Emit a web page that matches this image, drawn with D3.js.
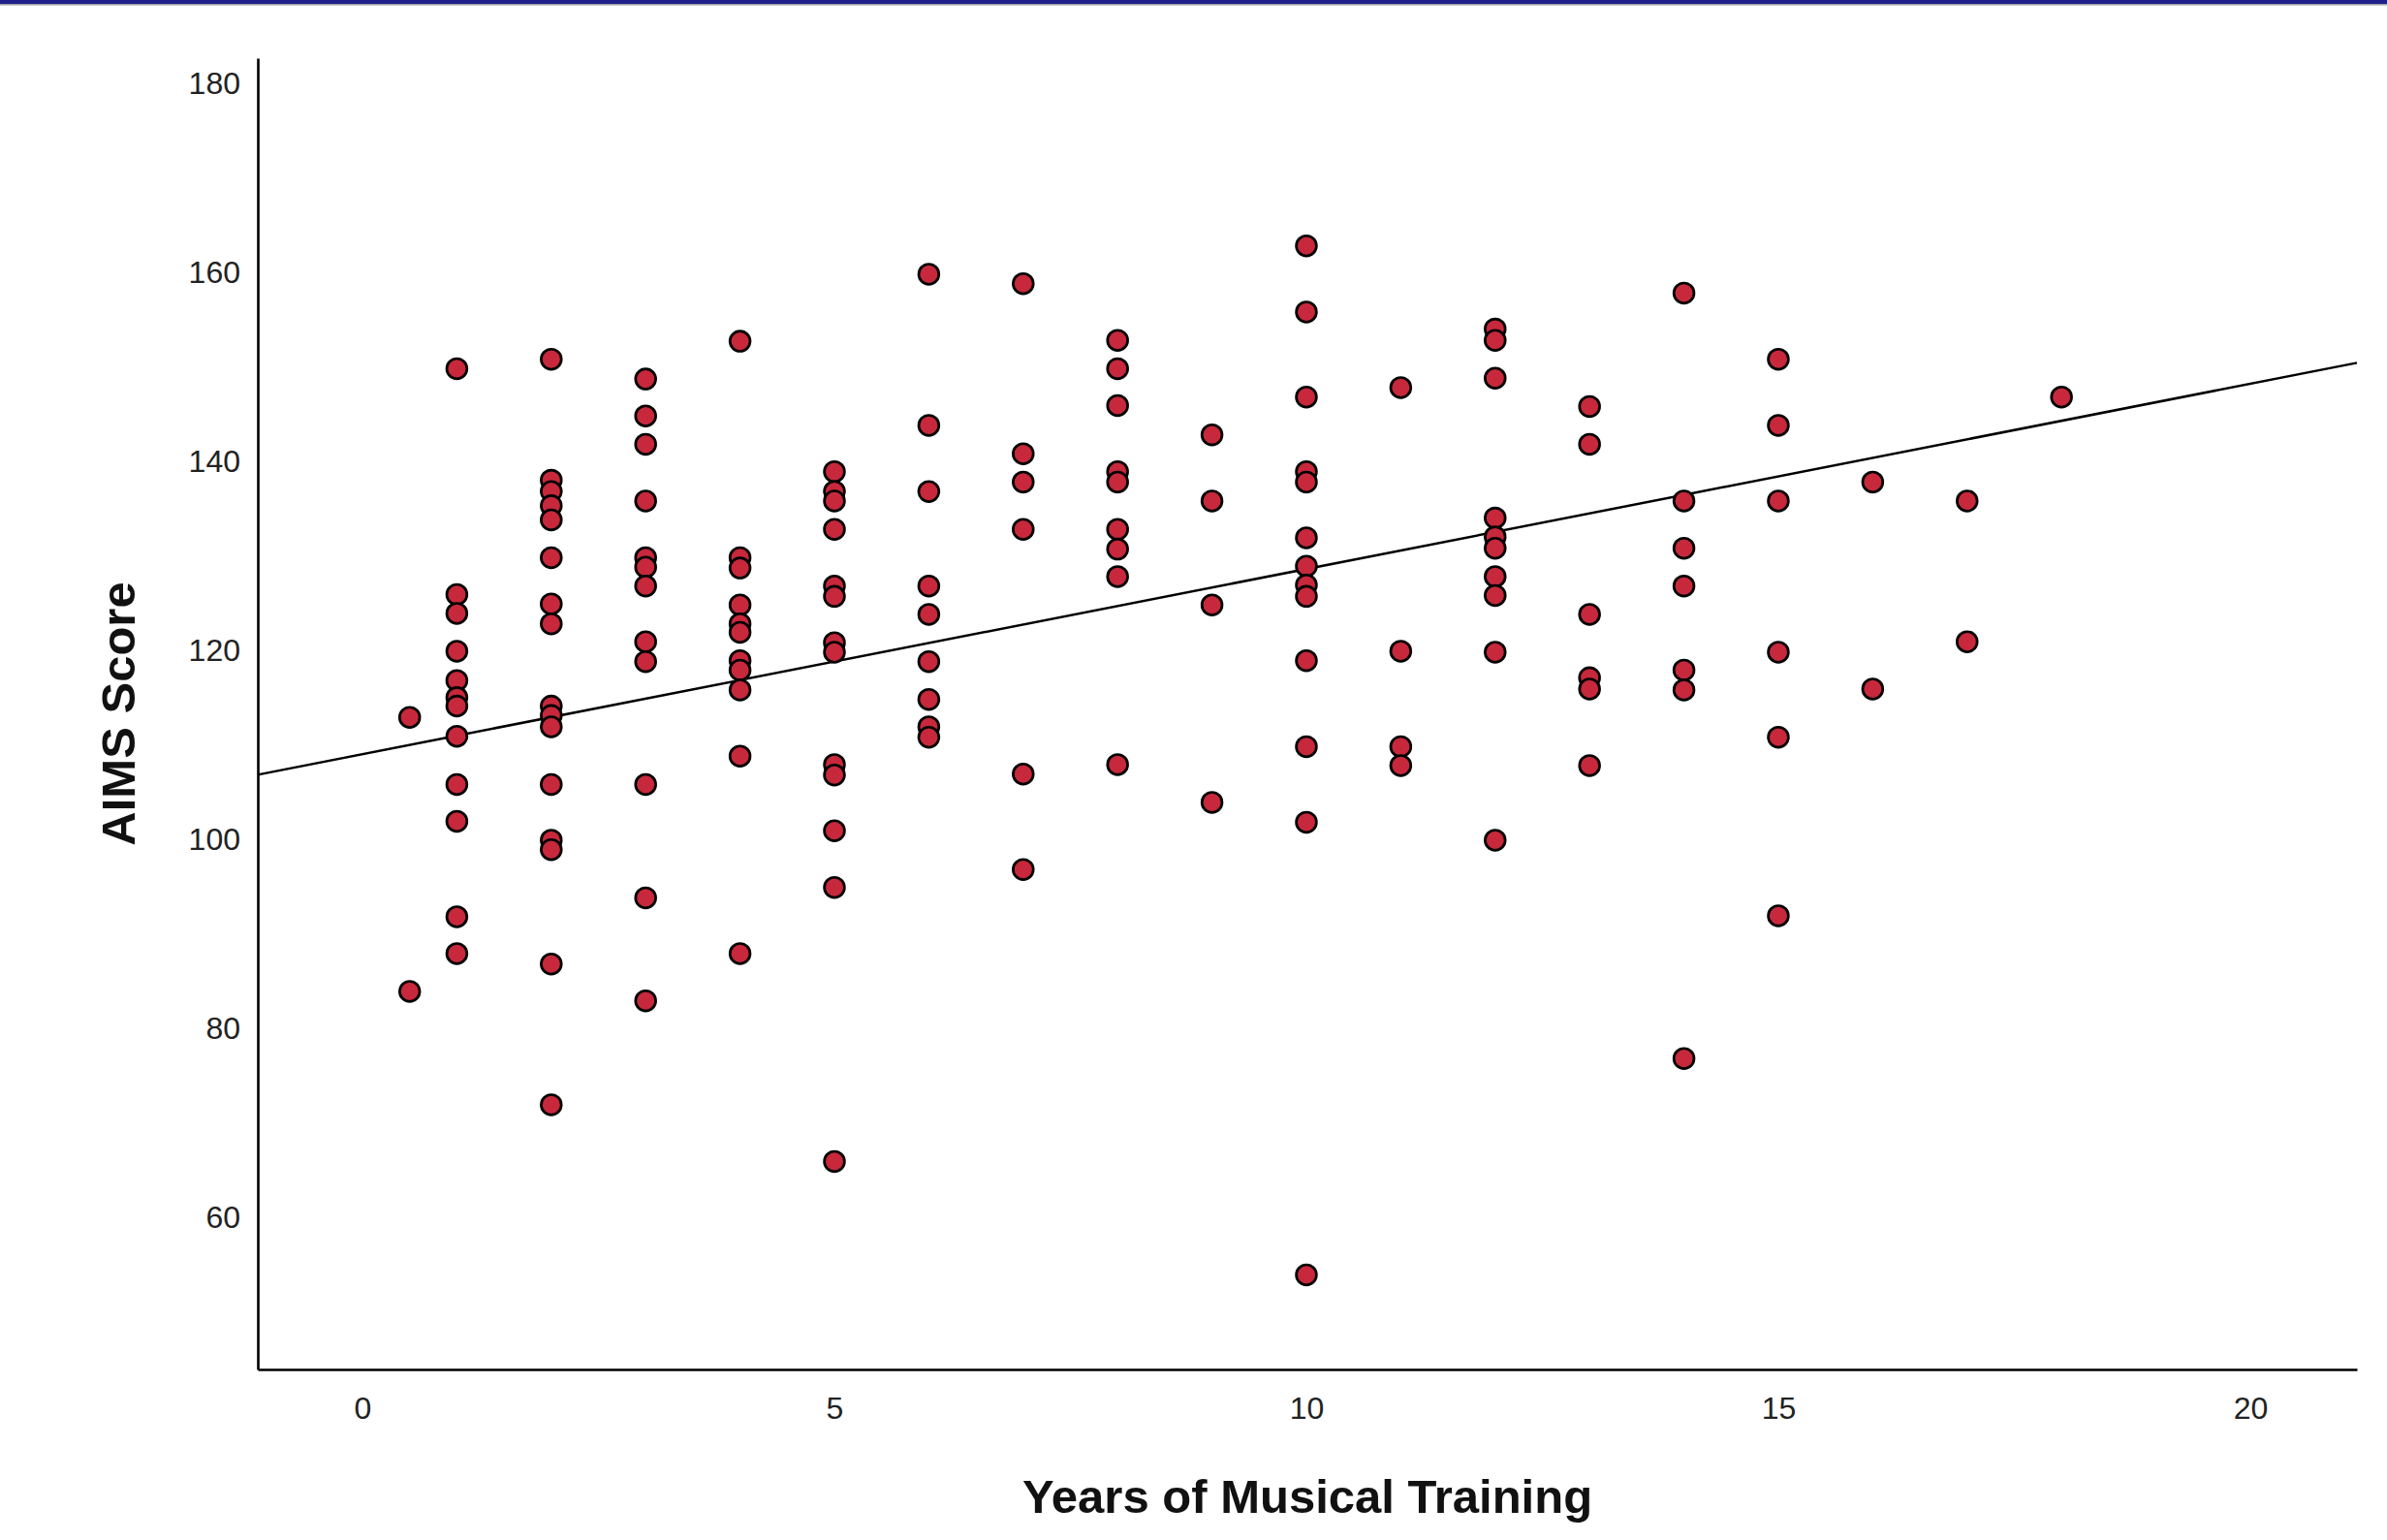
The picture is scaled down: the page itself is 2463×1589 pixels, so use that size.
<!DOCTYPE html>
<html>
<head>
<meta charset="utf-8">
<script src="https://cdn.jsdelivr.net/npm/d3@7"></script>
<style>
    body { margin: 0; background: #fff; }
    svg { display: block; }
</style>
</head>
<body>
<svg id="chart"></svg>
<script>
// years of training (x) and AIMS scores at each year
const years = [0.5, 1, 2, 3, 4, 5, 6, 7, 8, 9, 10, 11, 12, 13, 14, 15, 16, 17, 18];
const scores = [
    [112.7, 83.7],
    [149.6, 125.7, 123.7, 119.7, 116.6, 114.8, 113.9, 110.7, 105.6, 101.7, 91.6, 87.7],
    [150.6, 137.8, 136.6, 135.1, 133.6, 129.6, 124.7, 122.6, 113.9, 112.9, 111.7, 105.6, 99.7, 98.7, 86.6, 71.7],
    [148.5, 144.6, 141.6, 135.6, 129.6, 128.6, 126.6, 120.7, 118.6, 105.6, 93.6, 82.7],
    [152.5, 129.6, 128.5, 124.6, 122.6, 121.7, 118.7, 117.7, 115.6, 108.6, 87.7],
    [138.7, 136.6, 135.6, 132.6, 126.6, 125.5, 120.6, 119.6, 107.7, 106.6, 100.7, 94.7, 65.7],
    [159.6, 143.6, 136.6, 126.6, 123.6, 118.6, 114.6, 111.7, 110.6],
    [158.6, 140.6, 137.6, 132.6, 106.7, 96.6],
    [152.6, 149.6, 145.7, 138.7, 137.6, 132.6, 130.5, 127.6, 107.7],
    [142.6, 135.6, 124.6, 103.7],
    [162.6, 155.6, 146.6, 138.7, 137.6, 131.7, 128.7, 126.7, 125.5, 118.7, 109.6, 101.6, 53.7],
    [147.6, 119.7, 109.6, 107.6],
    [153.8, 152.6, 148.6, 133.8, 131.8, 130.6, 127.6, 125.6, 119.6, 99.7],
    [145.6, 141.6, 123.6, 116.9, 115.7, 107.6],
    [157.6, 135.6, 130.6, 126.6, 117.7, 115.6, 76.6],
    [150.6, 143.6, 135.6, 119.6, 110.6, 91.7],
    [137.6, 115.7],
    [135.6, 120.7],
    [146.6]
];

const xTicks = [0, 5, 10, 15, 20];
const yTicks = [60, 80, 100, 120, 140, 160, 180];

// fit line
const fitIntercept = 108.8;
const fitSlope = 1.96;

const width = 2463;
const height = 1589;
const plot = { left: 266, right: 2432, top: 60, bottom: 1413 };

const points = years.flatMap((yr, i) => scores[i].map(s => ({ year: yr, score: s })));

const x = d3.scaleLinear()
    .domain([-1.109, 21.13])
    .range([plot.left, plot.right]);

const y = d3.scaleLinear()
    .domain([43.69, 182.46])
    .range([plot.bottom, plot.top]);

const svg = d3.select("#chart")
    .attr("width", width)
    .attr("height", height);

svg.append("rect")
    .attr("width", width)
    .attr("height", height)
    .attr("fill", "#fff");

// frame line along the top edge
svg.append("rect")
    .attr("x", 0).attr("y", 0)
    .attr("width", width).attr("height", 4)
    .attr("fill", "#20208c");
svg.append("rect")
    .attr("x", 0).attr("y", 4)
    .attr("width", width).attr("height", 1.5)
    .attr("fill", "#a0a0a0");

// axes
const xAxis = svg.append("g")
    .attr("transform", `translate(0,${plot.bottom})`)
    .call(d3.axisBottom(x).tickValues(xTicks).tickSize(0).tickSizeOuter(0).tickPadding(28));

const yAxis = svg.append("g")
    .attr("transform", `translate(${plot.left},0)`)
    .call(d3.axisLeft(y).tickValues(yTicks).tickSize(0).tickSizeOuter(0).tickPadding(18));

[xAxis, yAxis].forEach(g => {
    g.select(".domain")
        .attr("stroke", "#000")
        .attr("stroke-width", 2.6);
    g.selectAll("text")
        .attr("fill", "#222")
        .style("font-family", "'Liberation Sans', Arial, sans-serif")
        .style("font-size", "32px");
});
yAxis.selectAll("text").attr("dy", "0.38em");

// regression line
const [x0, x1] = x.domain();
svg.append("line")
    .attr("x1", x(x0))
    .attr("y1", y(fitIntercept + fitSlope * x0))
    .attr("x2", x(x1))
    .attr("y2", y(fitIntercept + fitSlope * x1))
    .attr("stroke", "#000")
    .attr("stroke-width", 2.5);

// points
svg.append("g")
    .selectAll("circle")
    .data(points)
    .join("circle")
    .attr("cx", d => x(d.year))
    .attr("cy", d => y(d.score))
    .attr("r", 10.4)
    .attr("fill", "#c7283b")
    .attr("stroke", "#000")
    .attr("stroke-width", 2.7);

// axis titles
svg.append("text")
    .attr("x", (plot.left + plot.right) / 2)
    .attr("y", 1561)
    .attr("text-anchor", "middle")
    .style("font-family", "'Liberation Sans', Arial, sans-serif")
    .style("font-weight", "bold")
    .style("font-size", "49px")
    .attr("fill", "#111")
    .text("Years of Musical Training");

svg.append("text")
    .attr("transform", `translate(122,${(plot.top + plot.bottom) / 2}) rotate(-90)`)
    .attr("text-anchor", "middle")
    .attr("dominant-baseline", "central")
    .style("font-family", "'Liberation Sans', Arial, sans-serif")
    .style("font-weight", "bold")
    .style("font-size", "49px")
    .attr("fill", "#111")
    .text("AIMS Score");
</script>
</body>
</html>
